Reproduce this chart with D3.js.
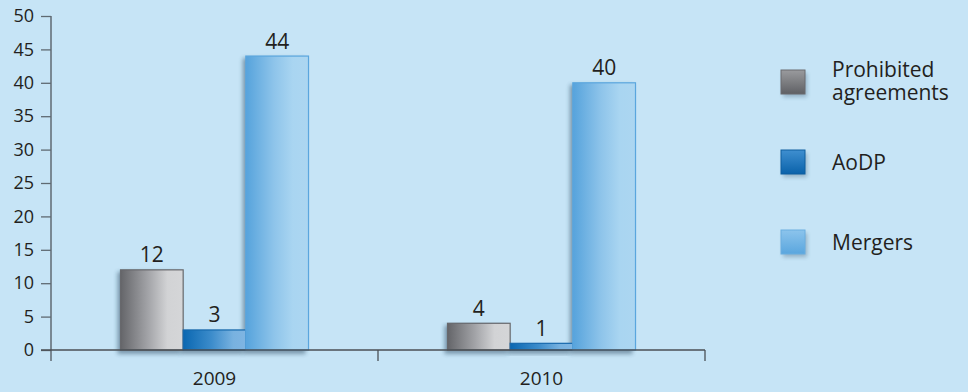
<!DOCTYPE html>
<html>
<head>
<meta charset="utf-8">
<script src="https://cdn.jsdelivr.net/npm/d3@7/dist/d3.min.js"></script>
<style>
  html, body { margin: 0; padding: 0; background: #c6e4f6; }
  svg { display: block; }
  text { font-family: "Open Sans", "Noto Sans", sans-serif; fill: #231f20; }
</style>
</head>
<body>
<svg id="chart" width="968" height="392"></svg>
<script>
// Cases by year and type
const years = ["2009", "2010"];
const series = ["Prohibited agreements", "AoDP", "Mergers"];
const prohibited = [12, 4];
const aodp = [3, 1];
const mergers = [44, 40];
const yTicks = [0, 5, 10, 15, 20, 25, 30, 35, 40, 45, 50];

const seriesValues = [prohibited, aodp, mergers];
const legendLines = [["Prohibited", "agreements"], ["AoDP"], ["Mergers"]];

const W = 968, H = 392;
const margin = { left: 51, right: 263, top: 16, bottom: 42 };
const plotRight = W - margin.right;
const plotBottom = H - margin.bottom;

const svg = d3.select("#chart");
const defs = svg.append("defs");

// Horizontal gradients for each series (dark on the left, light on the right)
const grads = [
  { id: "gGray", stops: [["0%", "#646569"], ["45%", "#a4a5a9"], ["75%", "#d2d3d5"], ["100%", "#d5d6d8"]], stroke: "#67686c" },
  { id: "gBlue", stops: [["0%", "#0a67b1"], ["45%", "#3c8ccb"], ["80%", "#78b2e0"], ["100%", "#7fb5e2"]], stroke: "#1769ad" },
  { id: "gLight", stops: [["0%", "#56a3dc"], ["45%", "#8ec4ea"], ["75%", "#a9d5f1"], ["100%", "#acd6f1"]], stroke: "#5aa6de" }
];
grads.forEach(g => {
  const lg = defs.append("linearGradient").attr("id", g.id)
    .attr("x1", "0%").attr("x2", "100%").attr("y1", "0%").attr("y2", "0%");
  g.stops.forEach(s => lg.append("stop").attr("offset", s[0]).attr("stop-color", s[1]));
});
// Vertical gradients for legend swatches
const swatchGrads = [
  { id: "sGray", top: "#9a9b9e", bottom: "#5f6064", stroke: "#6a6b6f" },
  { id: "sBlue", top: "#3f8fd0", bottom: "#0a62aa", stroke: "#0e5f9f" },
  { id: "sLight", top: "#8cc4ec", bottom: "#5aa6de", stroke: "#6aaee0" }
];
swatchGrads.forEach(g => {
  const lg = defs.append("linearGradient").attr("id", g.id)
    .attr("x1", "0%").attr("x2", "0%").attr("y1", "0%").attr("y2", "100%");
  lg.append("stop").attr("offset", "0%").attr("stop-color", g.top);
  lg.append("stop").attr("offset", "100%").attr("stop-color", g.bottom);
});

const shadow = defs.append("filter").attr("id", "shadow")
  .attr("x", "-30%").attr("y", "-10%").attr("width", "160%").attr("height", "130%");
shadow.append("feGaussianBlur").attr("stdDeviation", 2.2);

const y = d3.scaleLinear().domain([0, 50]).range([plotBottom, margin.top]);
const x0 = d3.scaleBand().domain(years).range([margin.left, plotRight]).paddingInner(0).paddingOuter(0);
const x1 = d3.scaleBand().domain(series).range([69.5, x0.bandwidth() - 69.5]).padding(0);

// Bars
years.forEach((yr, i) => {
  const g = svg.append("g").attr("transform", `translate(${x0(yr)},0)`);
  const data = series.map((s, k) => ({ s, k, v: seriesValues[k][i] }));
  // soft shadow behind
  g.selectAll("rect.sh").data(data).enter().append("rect")
    .attr("class", "sh")
    .attr("x", d => x1(d.s) - 3)
    .attr("y", d => y(d.v) + 2)
    .attr("width", x1.bandwidth())
    .attr("height", d => plotBottom - y(d.v) + 2)
    .attr("fill", "#1d3b52").attr("opacity", 0.45)
    .attr("filter", "url(#shadow)");
  g.selectAll("rect.bar").data(data).enter().append("rect")
    .attr("class", "bar")
    .attr("x", d => x1(d.s))
    .attr("y", d => y(d.v))
    .attr("width", x1.bandwidth())
    .attr("height", d => plotBottom - y(d.v))
    .attr("fill", d => `url(#${grads[d.k].id})`)
    .attr("stroke", d => grads[d.k].stroke)
    .attr("stroke-width", 1.2);
  g.selectAll("text.val").data(data).enter().append("text")
    .attr("class", "val")
    .attr("x", d => x1(d.s) + x1.bandwidth() / 2)
    .attr("y", d => y(d.v) - 7.5)
    .attr("text-anchor", "middle")
    .attr("font-size", 21)
    .text(d => d.v);
});

// Y axis
const yAxis = d3.axisLeft(y).tickValues(yTicks).tickSize(10).tickPadding(7);
const ya = svg.append("g").attr("transform", `translate(${margin.left},0)`).call(yAxis);
ya.select(".domain").attr("d", `M0,${margin.top}V${plotBottom + 11}`).attr("stroke", "#5f6a72").attr("stroke-width", 1.5);
ya.selectAll(".tick line").attr("stroke", "#5f6a72").attr("stroke-width", 1.3);
ya.selectAll(".tick text").attr("font-size", 18).attr("fill", "#231f20")
  .style("font-family", "'Open Sans', 'Noto Sans', sans-serif");

// X axis
const xa = svg.append("g").attr("transform", `translate(0,${plotBottom})`);
xa.append("line").attr("x1", margin.left - 10).attr("x2", plotRight)
  .attr("stroke", "#4a4f55").attr("stroke-width", 1.3);
[x0.range()[0] + x0.bandwidth(), plotRight].forEach(px => {
  xa.append("line").attr("x1", px).attr("x2", px).attr("y1", 0).attr("y2", 11)
    .attr("stroke", "#4a4f55").attr("stroke-width", 1.3);
});
xa.selectAll("text.yr").data(years).enter().append("text")
  .attr("class", "yr")
  .attr("x", d => x0(d) + x0.bandwidth() / 2)
  .attr("y", 35)
  .attr("text-anchor", "middle")
  .attr("font-size", 19)
  .text(d => d);

// Legend
const legendY = [70, 150, 230];
const lg = svg.append("g");
series.forEach((s, k) => {
  lg.append("rect").attr("x", 783).attr("y", legendY[k] + 3)
    .attr("width", 24).attr("height", 24)
    .attr("fill", "#1d3b52").attr("opacity", 0.3).attr("filter", "url(#shadow)");
  lg.append("rect").attr("x", 781).attr("y", legendY[k])
    .attr("width", 24).attr("height", 24)
    .attr("fill", `url(#${swatchGrads[k].id})`)
    .attr("stroke", swatchGrads[k].stroke).attr("stroke-width", 1);
  const lines = legendLines[k];
  const firstBaseline = lines.length > 1 ? legendY[k] + 6.5 : legendY[k] + 20;
  lines.forEach((ln, j) => {
    lg.append("text").attr("x", 832).attr("y", firstBaseline + j * 23.5)
      .attr("font-size", 21).text(ln);
  });
});
</script>
</body>
</html>
